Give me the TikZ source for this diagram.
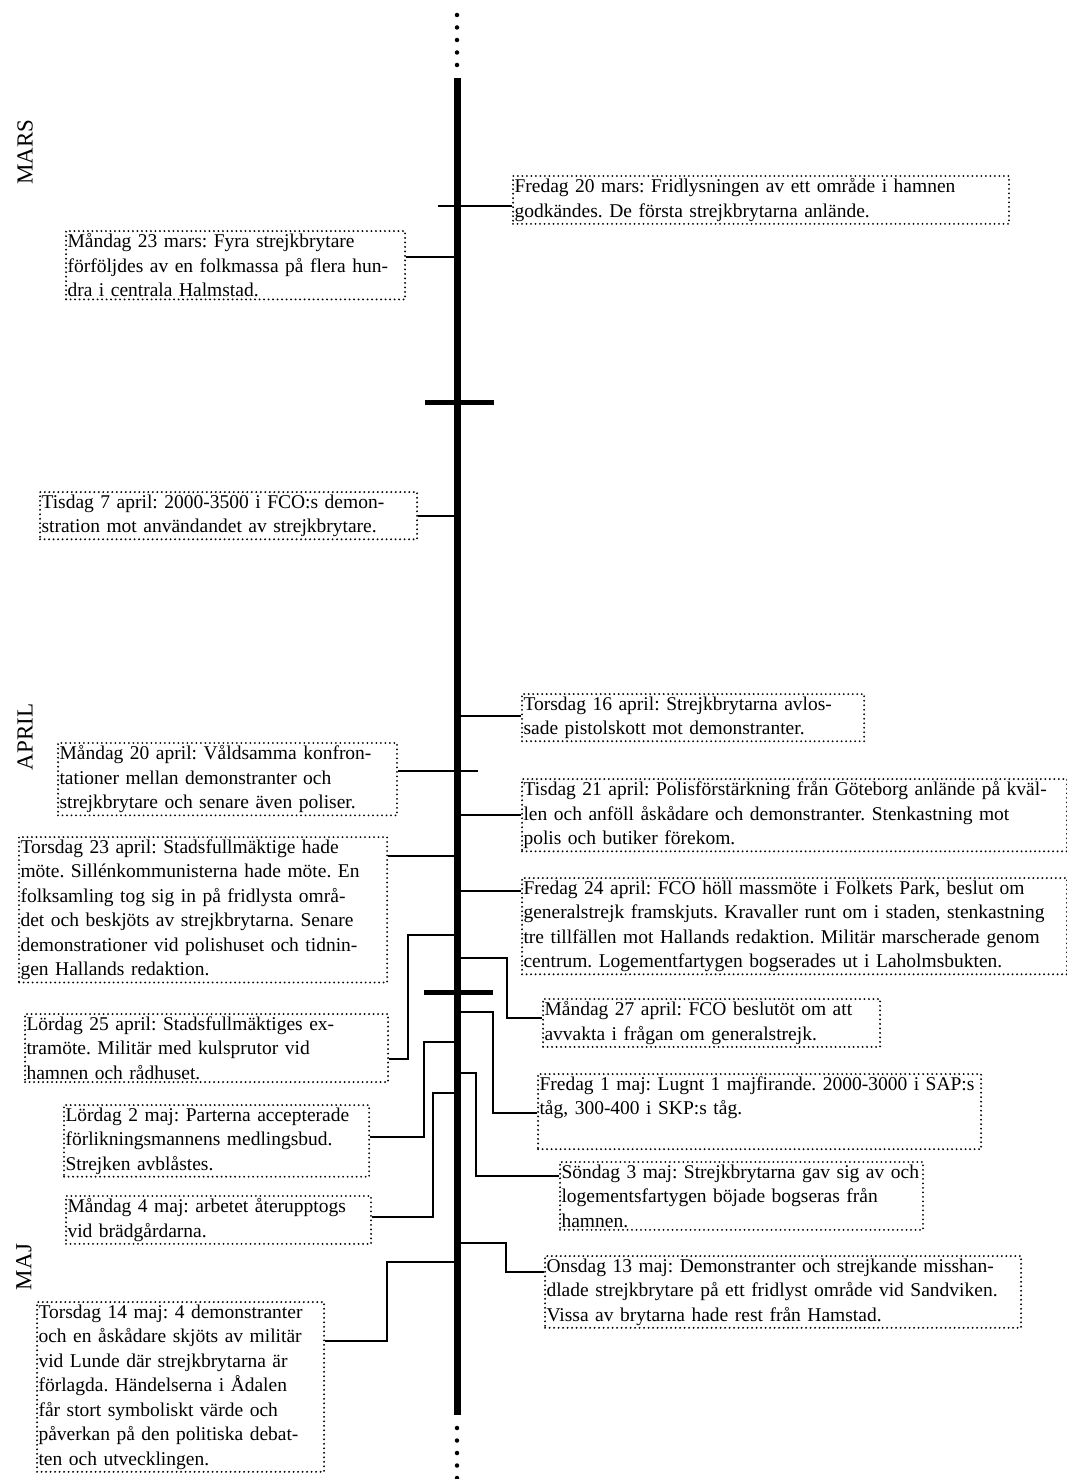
\documentclass[tikz,border=0pt]{standalone}
\usepackage{fontspec}
\setmainfont{Liberation Serif}
\begin{document}
\begin{tikzpicture}[x=1pt,y=-1pt,
    event/.style={draw, line width=2.1pt, dash pattern=on 0pt off 4.5pt, line cap=round,
        anchor=north west, align=left, inner xsep=1.5pt, inner ysep=2.5pt,
        font=\fontsize{19.5}{24.5}\selectfont\frenchspacing},
    link/.style={line width=2.8pt},
    month/.style={rotate=90, font=\fontsize{23}{26}\selectfont}]
    \useasboundingbox (0,0) rectangle (1067,1479);
    \coordinate (top) at (457,78);
    \coordinate (bottom) at (457,1415);

    \node[month] (mars) at (25,152) {MARS};
    \node[month] (april) at (25,737) {APRIL};
    \node[month] (maj) at (24,1267) {MAJ};

    \node[event, text width=493pt] (mars20) at (512,175) {Fredag 20 mars: Fridlysningen av ett område i hamnen\\godkändes. De första strejkbrytarna anlände.};
    \node[event, text width=336pt] (mars23) at (65,230) {Måndag 23 mars: Fyra strejkbrytare\\förföljdes av en folkmassa på flera hun-\\dra i centrala Halmstad.};
    \node[event, text width=374pt] (apr7) at (39,491) {Tisdag 7 april: 2000-3500 i FCO:s demon-\\stration mot användandet av strejkbrytare.};
    \node[event, text width=339pt] (apr16) at (521,693) {Torsdag 16 april: Strejkbrytarna avlos-\\sade pistolskott mot demonstranter.};
    \node[event, text width=336pt] (apr20) at (57,742) {Måndag 20 april: Våldsamma konfron-\\tationer mellan demonstranter och\\strejkbrytare och senare även poliser.};
    \node[event, text width=542pt] (apr21) at (521,778) {Tisdag 21 april: Polisförstärkning från Göteborg anlände på kväl-\\len och anföll åskådare och demonstranter. Stenkastning mot\\polis och butiker förekom.};
    \node[event, text width=365pt] (apr23) at (18,836) {Torsdag 23 april: Stadsfullmäktige hade\\möte. Sillénkommunisterna hade möte. En\\folksamling tog sig in på fridlysta områ-\\det och beskjöts av strejkbrytarna. Senare\\demonstrationer vid polishuset och tidnin-\\gen Hallands redaktion.};
    \node[event, text width=542pt] (apr24) at (521,877) {Fredag 24 april: FCO höll massmöte i Folkets Park, beslut om\\generalstrejk framskjuts. Kravaller runt om i staden, stenkastning\\tre tillfällen mot Hallands redaktion. Militär marscherade genom\\centrum. Logementfartygen bogserades ut i Laholmsbukten.};
    \node[event, text width=360pt] (apr25) at (24,1013) {Lördag 25 april: Stadsfullmäktiges ex-\\tramöte. Militär med kulsprutor vid\\hamnen och rådhuset.};
    \node[event, text width=334pt] (apr27) at (542,998) {Måndag 27 april: FCO beslutöt om att\\avvakta i frågan om generalstrejk.};
    \node[event, text width=440pt] (maj1) at (537,1073) {Fredag 1 maj: Lugnt 1 majfirande. 2000-3000 i SAP:s\\tåg, 300-400 i SKP:s tåg.\\\strut};
    \node[event, text width=302pt] (maj2) at (63,1104) {Lördag 2 maj: Parterna accepterade\\förlikningsmannens medlingsbud.\\Strejken avblåstes.};
    \node[event, text width=302pt] (maj4) at (65,1195) {Måndag 4 maj: arbetet återupptogs\\vid brädgårdarna.};
    \node[event, text width=360pt] (maj3) at (559,1161) {Söndag 3 maj: Strejkbrytarna gav sig av och\\logementsfartygen böjade bogseras från\\hamnen.};
    \node[event, text width=473pt] (maj13) at (544,1255) {Onsdag 13 maj: Demonstranter och strejkande misshan-\\dlade strejkbrytare på ett fridlyst område vid Sandviken.\\Vissa av brytarna hade rest från Hamstad.};
    \node[event, text width=284pt] (maj14) at (36,1301) {Torsdag 14 maj: 4 demonstranter\\och en åskådare skjöts av militär\\vid Lunde där strejkbrytarna är\\förlagda. Händelserna i Ådalen\\får stort symboliskt värde och\\påverkan på den politiska debat-\\ten och utvecklingen.};

    \draw[link] (mars20.west |- 0,206) -- ([xshift=-19pt]top |- 0,206);
    \draw[link] (mars23.east |- 0,257) -- (top |- 0,257);
    \draw[link] (apr7.east |- 0,516) -- (top |- 0,516);
    \draw[link] (top |- 0,716) -- (apr16.west |- 0,716);
    \draw[link] (apr20.east |- 0,771) -- ([xshift=21pt]top |- 0,771);
    \draw[link] (top |- 0,815) -- (apr21.west |- 0,815);
    \draw[link] (apr23.east |- 0,856) -- (top |- 0,856);
    \draw[link] (top |- 0,891) -- (apr24.west |- 0,891);
    \draw[link] (apr25.east |- 0,1059) -| (408,935) -- (top |- 0,935);
    \draw[link] (top |- 0,958) -| (507,1018) -- (apr27.west |- 0,1018);
    \draw[link] (top |- 0,1012) -| (493,1113) -- (maj1.west |- 0,1113);
    \draw[link] (maj2.east |- 0,1137) -| (424,1042) -- (top |- 0,1042);
    \draw[link] (top |- 0,1073) -| (476,1176) -- (maj3.west |- 0,1176);
    \draw[link] (maj4.east |- 0,1217) -| (433,1093) -- (top |- 0,1093);
    \draw[link] (top |- 0,1243) -| (506,1272) -- (maj13.west |- 0,1272);
    \draw[link] (maj14.east |- 0,1341) -| (387,1262) -- (top |- 0,1262);

    \draw[line width=5pt] (425,402) -- (494,402);
    \draw[line width=5pt] (424,992) -- (493,992);

    \draw[line width=7pt] (top) -- (bottom);
    \draw[line width=4.5pt, line cap=round, dash pattern=on 0pt off 12.5pt] (457,15) -- (457,68);
    \draw[line width=4.5pt, line cap=round, dash pattern=on 0pt off 12.5pt] (457,1428) -- (457,1482);
\end{tikzpicture}
\end{document}
